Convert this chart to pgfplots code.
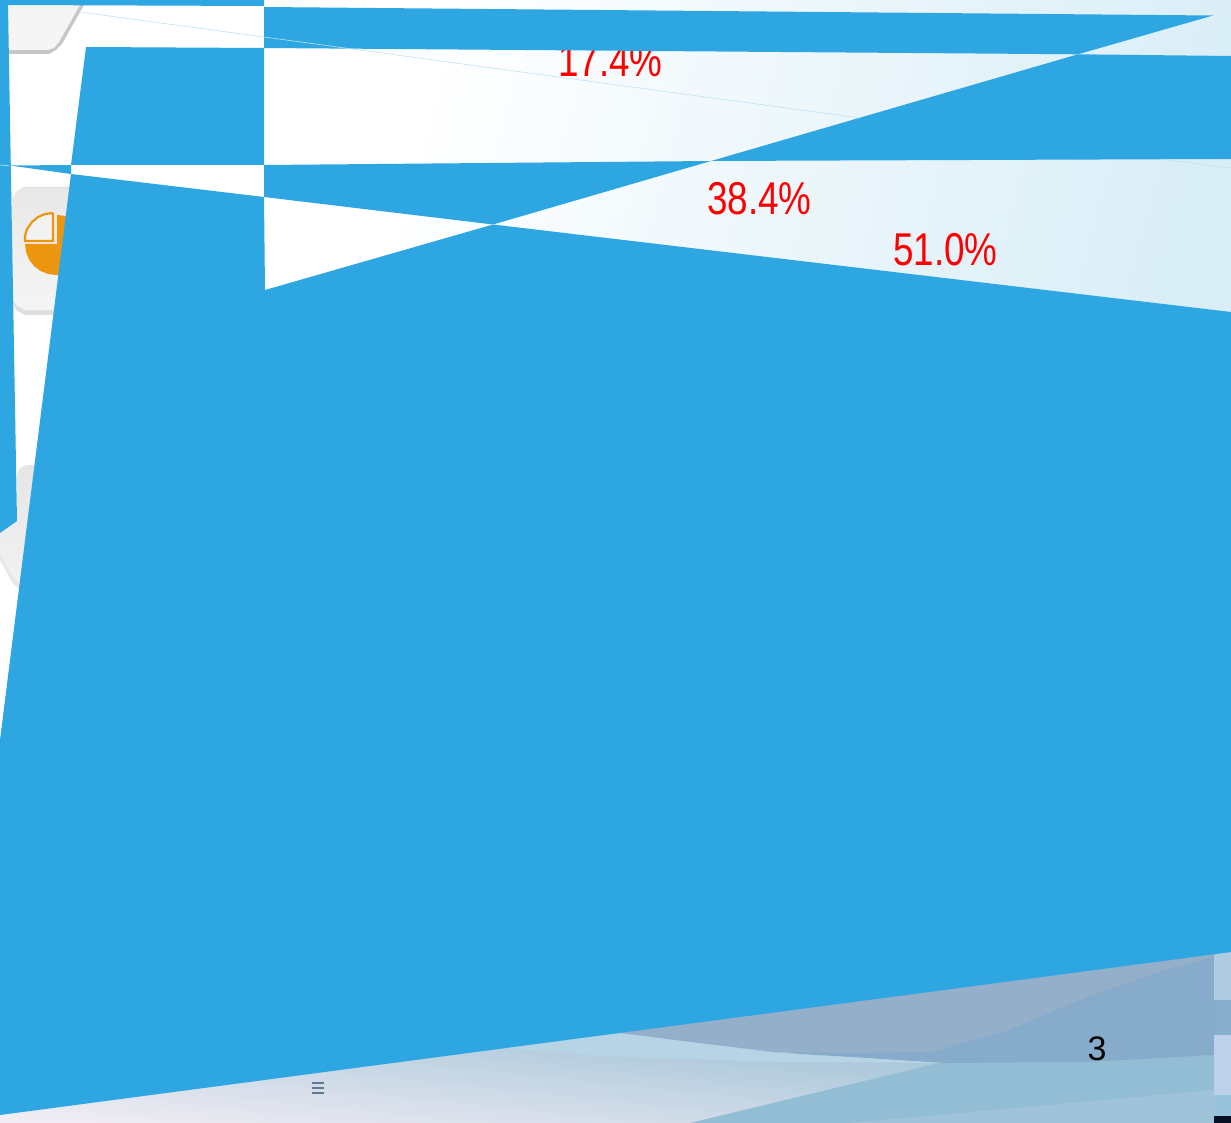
\documentclass[border=0pt]{standalone}
\usepackage{pgfplots}
\pgfplotsset{compat=1.18}
\usepackage{fontspec}
\setmainfont{Liberation Sans}
\definecolor{bl}{HTML}{2EA6E1}
\definecolor{lineb}{HTML}{BFE3F5}
\definecolor{org}{HTML}{EC950E}
\definecolor{gr}{HTML}{DAEEF7}
\definecolor{ca}{HTML}{96BDD2}
\definecolor{cb}{HTML}{F0ECF4}
\definecolor{cc}{HTML}{94AFC9}
\definecolor{cd}{HTML}{86ABCB}
\definecolor{ce}{HTML}{B7D3E6}
\definecolor{ch}{HTML}{93BDD5}
\definecolor{cj}{HTML}{9FC4DA}
\definecolor{s1}{HTML}{B0CADF}
\definecolor{s2}{HTML}{88AECD}
\definecolor{s3}{HTML}{BDD1EA}
\definecolor{s4}{HTML}{99C3DC}
\definecolor{s5}{HTML}{0A1024}
\definecolor{mk}{HTML}{5F7A8E}
\begin{document}
\begin{tikzpicture}
\begin{axis}[scale only axis,width=1231pt,height=1123pt,xmin=0,xmax=1231,ymin=0,ymax=1123,y dir=reverse,hide axis,clip=true]
% page and gradient ground
\addplot[draw=none,fill=white,forget plot] coordinates {(0,0)(1231,0)(1231,1123)(0,1123)};
\addplot[draw=none,left color=white,right color=gr,shading angle=75,forget plot] coordinates {(350,0)(1231,0)(1231,340)(350,340)};
% grey tab, top left
\addplot[draw=none,fill=black!22,forget plot] coordinates {(8,5)(84,5)(62,44)(56,50)(49,54)(8,54)};
\addplot[draw=none,fill=black!4,forget plot] coordinates {(8,5)(80,5)(59,42)(54,48)(48,50)(8,50)};
% icon box
\addplot[draw=none,fill=black!12,forget plot] coordinates {(12,200)(16,192)(24,187)(75,187)(75,315)(25,315)(16,310)(12,302)};
\addplot[draw=none,top color=black!9,bottom color=black!4,forget plot] coordinates {(12,200)(16,192)(24,188)(75,188)(75,310)(25,310)(16,305)(12,298)};
\addplot[draw=none,fill=org,forget plot] coordinates {(25,244)(26,252)(29,259.5)(34,266)(40.5,271)(48,274)(56,275)(66,275)(66,216)(57,215)(57,244)};
\addplot[draw=org,line width=2.2pt,fill=black!5,forget plot] coordinates {(53,213)(45,214)(38,217)(32,222)(27,229)(25,236)(25,241)(53,241)(53,213)};
% second box
\addplot[draw=none,fill=black!9,forget plot] coordinates {(0,533)(17,521)(17,475)(20,468)(27,465)(60,465)(60,600)(20,590)(12,582)(0,560)};
\addplot[draw=none,top color=black!10,bottom color=black!5,forget plot] coordinates {(0,533)(17,521)(17,475)(20,468)(27,465)(60,465)(60,590)(22,585)(14,578)(0,553)};
% lower ground
\addplot[draw=none,top color=ca,bottom color=cb,shading angle=-6,forget plot] coordinates {(0,1020)(1000,1020)(1000,1123)(0,1123)};
\addplot[draw=none,fill=ch,forget plot] coordinates {(690,1123)(939,1063)(1214,1055)(1214,1123)};
\addplot[draw=none,fill=cj,forget plot] coordinates {(850,1123)(1214,1090)(1214,1123)};
\addplot[draw=none,fill=cd,forget plot] coordinates {(787,1053)(850,1045)(1000,1020)(1214,950)(1214,1055)(1087,1062)(943,1063)};
\addplot[draw=none,fill=cc,forget plot] coordinates {(600,1030)(1214,945)(1213,957)(1165,970)(1087,997)(1009,1030)(931,1052)(853,1053)(776,1052)(698,1043)(620,1035)};
\addplot[draw=none,fill=ce,forget plot] coordinates {(500,1048)(620,1033)(698,1043)(776,1053)(850,1057)(943,1063)(780,1062)(620,1057)};
% right strip
\addplot[draw=none,fill=s1,forget plot] coordinates {(1214,940)(1231,940)(1231,1000)(1214,1000)};
\addplot[draw=none,fill=s2,forget plot] coordinates {(1214,1000)(1231,1000)(1231,1035)(1214,1035)};
\addplot[draw=none,fill=s3,forget plot] coordinates {(1214,1035)(1231,1035)(1231,1095)(1214,1095)};
\addplot[draw=none,fill=s4,forget plot] coordinates {(1214,1095)(1231,1095)(1231,1116)(1214,1116)};
\addplot[draw=none,fill=s5,forget plot] coordinates {(1214,1116)(1231,1116)(1231,1123)(1214,1123)};
% labels
\node[anchor=base west,text=red,font=\fontsize{46}{46}\selectfont,xscale=0.8,inner sep=0pt] at (axis cs:558,77) {17.4\%};
\node[anchor=base west,text=red,font=\fontsize{46}{46}\selectfont,xscale=0.8,inner sep=0pt] at (axis cs:707,215) {38.4\%};
\node[anchor=base west,text=red,font=\fontsize{46}{46}\selectfont,xscale=0.8,inner sep=0pt] at (axis cs:893,266) {51.0\%};
% blue polygons
\addplot[draw=none,fill=bl,forget plot] coordinates {(0,0)(264,0)(264,6)(8,5)(17,521)(0,533)};
\addplot[draw=none,fill=bl,forget plot] coordinates {(264,7)(1213,15.5)(1078,54.3)(264,48)};
\addplot[draw=none,fill=bl,forget plot] coordinates {(86,47)(264,48)(264,165)(71,165)};
\addplot[draw=none,fill=bl,forget plot] coordinates {(10,165.5)(71,165)(71,174)};
\addplot[draw=none,fill=bl,forget plot] coordinates {(264,165)(711,161)(493,224.5)(264,197)};
\addplot[draw=none,fill=bl,forget plot] coordinates {(711,161)(1078,54.3)(1231,56)(1231,159)};
\addplot[draw=none,fill=bl,forget plot] coordinates {(71,174)(264,197)(265,290)(493,224.5)(1231,312)(1231,952)(0,1115)(0,740)};
% thin lines
\addplot[lineb,line width=0.6pt,forget plot] coordinates {(80,12)(860,118)};
\addplot[lineb,line width=0.6pt,forget plot] coordinates {(1160,159)(1231,168)};
\addplot[lineb,line width=0.6pt,forget plot] coordinates {(0,165)(10,166)};
% marks in the ground
\addplot[draw=none,fill=mk,forget plot] coordinates {(312,1082)(324,1082)(324,1084)(312,1084)};
\addplot[draw=none,fill=mk,forget plot] coordinates {(312,1087)(324,1087)(324,1089)(312,1089)};
\addplot[draw=none,fill=mk,forget plot] coordinates {(312,1092)(324,1092)(324,1094)(312,1094)};
\node[anchor=base,text=black,font=\fontsize{34}{34}\selectfont,inner sep=0pt] at (axis cs:1097,1060) {3};
\end{axis}
\end{tikzpicture}
\end{document}
